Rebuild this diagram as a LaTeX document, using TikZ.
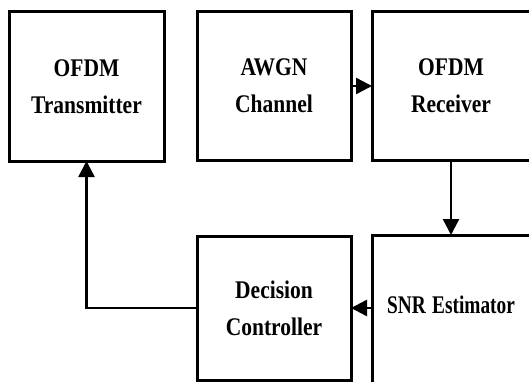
\documentclass[tikz,border=0pt]{standalone}
\usepackage{fontspec}
\setmainfont{Liberation Serif}
\usetikzlibrary{arrows.meta}
\newcommand{\blocktext}[1]{\scalebox{1}[1.18]{\bfseries #1}}
\tikzset{
  block/.style={draw, line width=3pt, inner sep=0pt, outer sep=0pt,
    align=center, font=\fontsize{21.5}{37}\selectfont},
  link/.style={line width=2.4pt, -{Triangle[length=16pt,width=16pt]}},
}
\begin{document}
\begin{tikzpicture}[x=1pt,y=1pt]
  \useasboundingbox (0,0) rectangle (529,381);
  \clip (0,0) rectangle (529,381);
  % upper row
  \node[block, minimum width=155pt, minimum height=149pt] (tx) at (86.5,294.5)
    {\blocktext{OFDM}\\\blocktext{Transmitter}};
  \node[block, minimum width=154pt, minimum height=148pt] (ch) at (274,295)
    {\blocktext{AWGN}\\\blocktext{Channel}};
  \node[block, minimum width=158pt, minimum height=148pt] (rx) at (451,295)
    {\blocktext{OFDM}\\\blocktext{Receiver}};
  % lower row
  \node[block, minimum width=154pt, minimum height=144pt] (dc) at (274,73)
    {\blocktext{Decision}\\\blocktext{Controller}};
  \node[block, minimum width=158pt, minimum height=152pt, text width=140pt] (snr) at (451,70)
    {\raisebox{6pt}[\height][\depth]{\scalebox{0.9}[1.18]{\bfseries SNR Estimator}}};
  % signal flow
  \draw[link] (ch.east) -- (rx.west);
  \draw[link] (rx.south) -- (snr.north);
  \draw[link] (snr.west |- dc.east) -- (dc.east);
  \draw[link] (dc.west) -| (tx.south);
\end{tikzpicture}
\end{document}
